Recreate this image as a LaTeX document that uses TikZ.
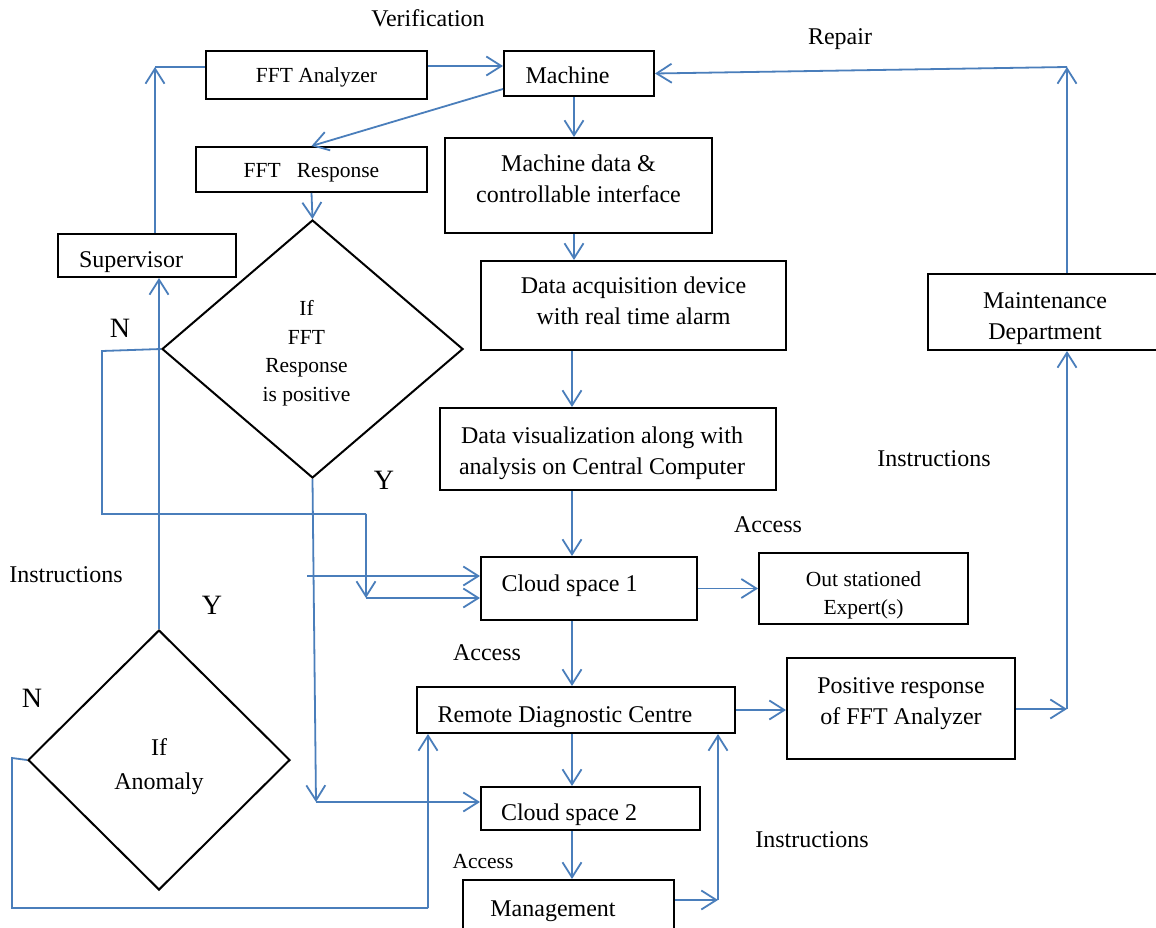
\documentclass[tikz,border=0pt]{standalone}
\usepackage{fontspec}
\setmainfont{Liberation Serif}
\usetikzlibrary{arrows.meta,shapes.geometric,calc}
\definecolor{lnblue}{RGB}{74,126,187}
\newcommand{\bxtext}[2]{\raisebox{#1}[\height][\depth]{\begin{tabular}{@{}c@{}}#2\end{tabular}}}
\tikzset{
 box/.style={draw=black, line width=2pt, inner sep=0pt, align=center, font=\fontsize{24}{31}\selectfont},
 smallbox/.style={box, font=\fontsize{21.5}{28}\selectfont},
 dia/.style={draw=black, line width=2pt, shape=diamond, inner sep=0pt, align=center},
 conn/.style={draw=lnblue, line width=1.8pt, -{Straight Barb[length=15pt,width=19pt,line width=1.8pt]}},
 wire/.style={draw=lnblue, line width=1.8pt},
 lbl/.style={inner sep=0pt, font=\fontsize{24}{29}\selectfont},
 lblsmall/.style={inner sep=0pt, font=\fontsize{21.5}{26}\selectfont},
 yn/.style={inner sep=0pt, font=\fontsize{28}{32}\selectfont},
}
\begin{document}
\begin{tikzpicture}[x=1pt,y=-1pt]
\fill[white] (0,0) rectangle (1156,928);
\useasboundingbox (0,0) rectangle (1156,928);

% boxes
\node[smallbox, minimum width=221pt, minimum height=48pt] (fftA) at (316.5,75) {\bxtext{-2pt}{FFT Analyzer}};
\node[box, minimum width=150pt, minimum height=45pt] (mach) at (579,73.5) {\bxtext{-4pt}{Machine}\hspace{23pt}};
\node[smallbox, minimum width=231pt, minimum height=45pt] (fftR) at (311.5,169.5) {\bxtext{-2pt}{FFT\ \ \ Response}};
\node[box, minimum width=267pt, minimum height=95pt] (mdata) at (578.5,185.5) {\bxtext{5pt}{Machine data \&\\controllable interface}};
\node[box, minimum width=178pt, minimum height=43pt] (sup) at (147,255.5) {\bxtext{-6pt}{Supervisor}\hspace{32pt}};
\node[box, minimum width=305pt, minimum height=89pt] (dacq) at (633.5,305.5) {\bxtext{3pt}{Data acquisition device\\with real time alarm}};
\node[box, minimum width=234pt, minimum height=76pt] (maint) at (1045,312) {\bxtext{-6pt}{Maintenance\\Department}};
\node[box, minimum width=336pt, minimum height=82pt] (dvis) at (608,449) {\bxtext{-4pt}{Data visualization along with\\analysis on Central Computer}\hspace{12pt}};
\node[box, minimum width=216pt, minimum height=63pt] (cs1) at (589,588.5) {\bxtext{3pt}{Cloud space 1}\hspace{39pt}};
\node[smallbox, minimum width=209pt, minimum height=71pt] (exp) at (863.5,588.5) {\bxtext{-6pt}{Out stationed\\Expert(s)}};
\node[box, minimum width=318pt, minimum height=46pt] (rdc) at (576,710) {\bxtext{-6pt}{Remote Diagnostic Centre}\hspace{22pt}};
\node[box, minimum width=228pt, minimum height=101pt] (pos) at (901,708.5) {\bxtext{6pt}{Positive response\\of FFT Analyzer}};
\node[box, minimum width=219pt, minimum height=43pt] (cs2) at (590.5,808.5) {\bxtext{-6pt}{Cloud space 2}\hspace{43pt}};
\node[box, minimum width=211pt, minimum height=60pt] (mgmt) at (568.5,910) {\bxtext{0pt}{Management}\hspace{31pt}};

% diamonds
\node[dia, minimum width=301pt, minimum height=258pt, font=\fontsize{21.5}{28.5}\selectfont] (d1) at (312.5,349) {\bxtext{-4pt}{If\\FFT\\Response\\is positive}\hspace{12pt}};
\node[dia, minimum width=262pt, minimum height=260pt, font=\fontsize{24}{34}\selectfont] (d2) at (159,760) {\bxtext{-6pt}{If\\Anomaly}};

% labels
\node[lbl] (lVer) at (428,18) {Verification};
\node[lbl] (lRep) at (840,39) {Repair};
\node[yn] (lN1) at (120,328) {N};
\node[yn] (lY1) at (384,480) {Y};
\node[lbl] (lIns1) at (66,575) {Instructions};
\node[yn] (lY2) at (212,605) {Y};
\node[yn] (lN2) at (32,698) {N};
\node[lbl] (lIns2) at (934,459) {Instructions};
\node[lbl] (lAcc1) at (768,525) {Access};
\node[lbl] (lAcc2) at (487,653) {Access};
\node[lblsmall] (lAcc3) at (483,861) {Access};
\node[lbl] (lIns3) at (812,840) {Instructions};

% coordinates
\coordinate (colA) at (574,0);
\coordinate (col) at (572,0);
\coordinate (supTop) at (155,67);
\coordinate (mJ) at (1067,709);
\coordinate (rJ) at (1067,67);
\coordinate (yA) at (307,576);
\coordinate (yB) at (316,802);
\coordinate (nA) at (102,351);
\coordinate (nB) at (102,514);
\coordinate (nC) at (366,514);
\coordinate (nD) at (366,598);
\coordinate (aA) at (12,758);
\coordinate (aB) at (12,908);
\coordinate (aC) at (428,908);
\coordinate (gJ) at (718,900);

% connectors
\draw[conn] (supTop |- sup.north) -- (supTop);
\draw[wire] (supTop) -- (fftA.west |- supTop);
\draw[conn] (fftA.east |- 0,66) -- (mach.west |- 0,66);
\draw[conn] ($(mach.south west)+(0,-8)$) -- (fftR.north);
\draw[conn] (colA |- mach.south) -- (colA |- mdata.north);
\draw[conn] (colA |- mdata.south) -- (colA |- dacq.north);
\draw[conn] (col |- dacq.south) -- (col |- dvis.north);
\draw[conn] (col |- dvis.south) -- (col |- cs1.north);
\draw[conn] (cs1.east) -- (exp.west |- cs1.east);
\draw[conn] (col |- cs1.south) -- (col |- rdc.north);
\draw[conn] (col |- rdc.south) -- (col |- cs2.north);
\draw[conn] (col |- cs2.south) -- (col |- mgmt.north);
\draw[conn] (rdc.east) -- (pos.west |- rdc.east);
\draw[conn] (pos.east |- mJ) -- (mJ);
\draw[conn] (mJ) -- (mJ |- maint.south);
\draw[conn] (rJ |- maint.north) -- (rJ);
\draw[conn] (rJ) -- (mach.east);
\draw[conn] (fftR.south) -- (d1.north);
\draw[conn] (d1.south) -- (yB);
\draw[conn] (yB) -- (cs2.west |- yB);
\draw[conn] (yA) -- (cs1.west |- yA);
\draw[wire] (d1.west) -- (nA) -- (nB) -- (nC);
\draw[conn] (nC) -- (nD);
\draw[conn] (nD) -- (cs1.west |- nD);
\draw[conn] (d2.north) -- (d2.north |- sup.south);
\draw[wire] (d2.west) -- (aA) -- (aB) -- (aC);
\draw[conn] (aC) -- (aC |- rdc.south);
\draw[conn] (mgmt.east |- gJ) -- (gJ);
\draw[conn] (gJ) -- (gJ |- rdc.south);
\end{tikzpicture}
\end{document}
